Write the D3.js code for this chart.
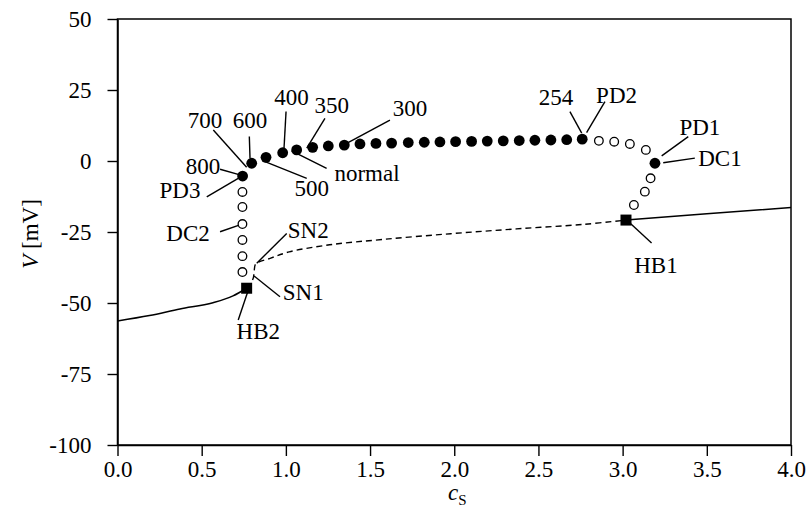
<!DOCTYPE html>
<html>
<head>
<meta charset="utf-8">
<script src="https://cdn.jsdelivr.net/npm/d3@7"></script>
<style>
  body { margin: 0; background: #fff; }
  svg text { font-family: "Liberation Serif", "Times New Roman", serif; fill: #000; }
</style>
</head>
<body>
<svg id="chart" width="812" height="515"></svg>
<script>
// stable rest state (solid), left and right parts
const restLeftC = [0.0, 0.19, 0.371, 0.567, 0.686, 0.767];
const restLeftV = [-56.3, -54.4, -52.1, -49.9, -47.5, -44.8];
const restRightC = [3.02, 3.5, 4.0];
const restRightV = [-20.8, -18.6, -16.4];

// unstable rest state (dashed), HB2 -> SN1 -> SN2 -> HB1
const unstableC = [0.767, 0.805, 0.812, 0.822, 0.91, 1.02, 1.26, 1.58, 1.98, 2.37, 2.77, 3.02];
const unstableV = [-44.8, -41.5, -38.5, -36.2, -34.2, -32.0, -29.5, -27.6, -25.6, -23.9, -22.3, -20.8];

// stable periodic solutions (filled dots)
const stableC = [0.743, 0.797, 0.882, 0.981, 1.064, 1.159, 1.252, 1.347, 1.440, 1.535, 1.628, 1.727,
  1.822, 1.915, 2.008, 2.103, 2.196, 2.291, 2.386, 2.479, 2.574, 2.668, 2.760, 3.192];
const stableV = [-5.3, -0.8, 1.3, 2.9, 3.9, 4.8, 5.3, 5.6, 6.0, 6.2, 6.3, 6.5,
  6.6, 6.7, 6.8, 6.9, 7.0, 7.1, 7.2, 7.3, 7.4, 7.5, 7.7, -0.8];

// unstable periodic solutions (open circles)
const unstableOrbitC = [0.742, 0.742, 0.742, 0.742, 0.742, 0.742,
  2.859, 2.950, 3.043, 3.138, 3.166, 3.132, 3.067];
const unstableOrbitV = [-10.9, -16.2, -22.2, -27.8, -33.5, -39.1,
  7.1, 6.8, 6.0, 3.9, -6.1, -10.8, -15.5];

// Hopf points (squares)
const hopfC = [0.767, 3.02];
const hopfV = [-44.8, -20.8];

// annotations: label, text position, leader start, leader end
const labelText = ["700", "600", "800", "PD3", "500", "normal", "400", "350", "300",
  "254", "PD2", "PD1", "DC1", "HB1", "DC2", "SN2", "SN1", "HB2"];
const labelAt = [[0.52, 14.4], [0.787, 14.4], [0.508, -1.8], [0.371, -10.2], [1.153, -9.6],
  [1.482, -4.2], [1.034, 22.6], [1.272, 19.7], [1.737, 18.6], [2.604, 22.5], [2.964, 23.2],
  [3.459, 12.1], [3.578, 1.0], [3.198, -36.6], [0.419, -25.5], [1.133, -24.3], [1.103, -46.0], [0.836, -59.9]];
const leaderFrom = [[0.569, 10.9], [0.783, 8.6], [0.609, -2.9], [0.53, -12.6], [1.124, -6.1],
  [1.242, -2.6], [1.001, 17.4], [1.232, 15.0], [1.618, 14.4], [2.687, 17.4], [2.895, 20.9],
  [3.39, 8.6], [3.429, 1.0], [3.172, -28.9], [0.609, -24.9], [1.005, -25.5], [0.965, -47.8], [0.717, -56.0]];
const leaderTo = [[0.767, -2.2], [0.787, 1.0], [0.727, -4.9], [0.717, -6.1], [0.876, -0.2],
  [1.034, 3.6], [0.989, 4.5], [1.124, 4.5], [1.361, 6.2], [2.757, 9.8], [2.786, 10.0],
  [3.232, 1.8], [3.241, -0.6], [3.024, -20.8], [0.727, -22.5], [0.827, -36.0], [0.811, -40.5], [0.777, -45.4]];

const xTicks = [0, 0.5, 1.0, 1.5, 2.0, 2.5, 3.0, 3.5, 4.0];
const yTicks = [50, 25, 0, -25, -50, -75, -100];

const svg = d3.select("#chart");
const x = d3.scaleLinear().domain([0, 4]).range([117.5, 791]);
const y = d3.scaleLinear().domain([-100, 50]).range([445, 19]);
const fs = 23;

// frame
svg.append("rect")
  .attr("x", x(0)).attr("y", y(50))
  .attr("width", x(4) - x(0)).attr("height", y(-100) - y(50))
  .attr("fill", "none").attr("stroke", "#000").attr("stroke-width", 1.5);

const xAxis = svg.append("g")
  .attr("transform", `translate(0,${y(-100)})`)
  .call(d3.axisBottom(x).tickValues(xTicks).tickFormat(d3.format(".1f")).tickSize(11).tickPadding(5).tickSizeOuter(0));
const yAxis = svg.append("g")
  .attr("transform", `translate(${x(0)},0)`)
  .call(d3.axisLeft(y).tickValues(yTicks).tickFormat(d => String(d)).tickSize(10).tickPadding(16).tickSizeOuter(0));
[xAxis, yAxis].forEach(g => {
  g.select(".domain").attr("stroke-width", 1.5);
  g.selectAll(".tick line").attr("stroke-width", 1.4);
  g.selectAll(".tick text").attr("font-size", fs).attr("font-family", "Liberation Serif");
});

// axis titles
const yl = svg.append("text")
  .attr("transform", `translate(38,${(y(50) + y(-100)) / 2 + 2}) rotate(-90)`)
  .attr("text-anchor", "middle").attr("font-size", fs);
yl.append("tspan").attr("font-style", "italic").text("V");
yl.append("tspan").text(" [mV]");

const xl = svg.append("text")
  .attr("x", (x(0) + x(4)) / 2 + 3).attr("y", 500)
  .attr("text-anchor", "middle").attr("font-size", fs);
xl.append("tspan").attr("font-style", "italic").text("c");
xl.append("tspan").attr("font-size", 15).attr("dy", 5).text("S");

// curves
const line = d3.line().x(d => x(d[0])).y(d => y(d[1])).curve(d3.curveMonotoneX);

svg.append("path").datum(d3.zip(restLeftC, restLeftV))
  .attr("d", line).attr("fill", "none").attr("stroke", "#000").attr("stroke-width", 1.5);
svg.append("path").datum(d3.zip(restRightC, restRightV))
  .attr("d", line).attr("fill", "none").attr("stroke", "#000").attr("stroke-width", 1.5);
svg.append("path").datum(d3.zip(unstableC, unstableV))
  .attr("d", d3.line().x(d => x(d[0])).y(d => y(d[1])).curve(d3.curveCatmullRom))
  .attr("fill", "none").attr("stroke", "#000").attr("stroke-width", 1.4)
  .attr("stroke-dasharray", "6,4");

// leader lines
svg.append("g").selectAll("line").data(d3.range(labelText.length)).join("line")
  .attr("x1", i => x(leaderFrom[i][0])).attr("y1", i => y(leaderFrom[i][1]))
  .attr("x2", i => x(leaderTo[i][0])).attr("y2", i => y(leaderTo[i][1]))
  .attr("stroke", "#000").attr("stroke-width", 1.4);

// periodic solutions
svg.append("g").selectAll("circle").data(d3.zip(unstableOrbitC, unstableOrbitV)).join("circle")
  .attr("cx", d => x(d[0])).attr("cy", d => y(d[1])).attr("r", 4.3)
  .attr("fill", "#fff").attr("stroke", "#000").attr("stroke-width", 1.3);
svg.append("g").selectAll("circle").data(d3.zip(stableC, stableV)).join("circle")
  .attr("cx", d => x(d[0])).attr("cy", d => y(d[1])).attr("r", 5.4)
  .attr("fill", "#000");

// Hopf squares
svg.append("g").selectAll("rect").data(d3.zip(hopfC, hopfV)).join("rect")
  .attr("x", d => x(d[0]) - 5.5).attr("y", d => y(d[1]) - 5.5)
  .attr("width", 11).attr("height", 11).attr("fill", "#000");

// labels
svg.append("g").selectAll("text").data(d3.range(labelText.length)).join("text")
  .attr("x", i => x(labelAt[i][0])).attr("y", i => y(labelAt[i][1]))
  .attr("dy", "0.35em").attr("text-anchor", "middle").attr("font-size", fs)
  .text(i => labelText[i]);
</script>
</body>
</html>
